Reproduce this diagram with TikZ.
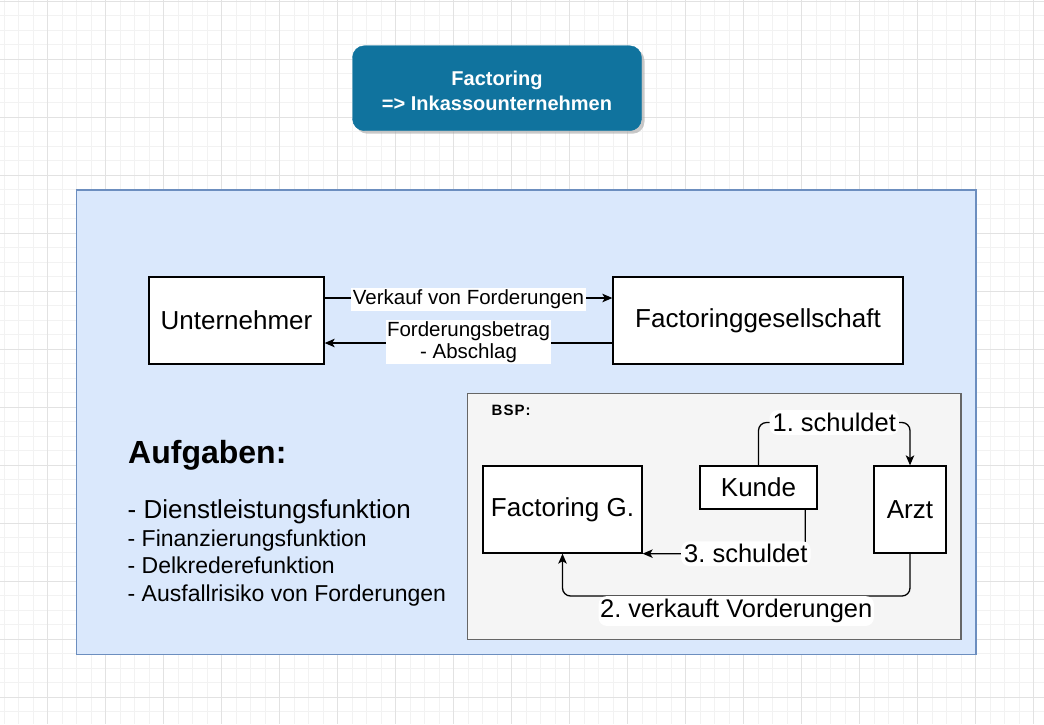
\documentclass[tikz,border=0pt]{standalone}
\usepackage{fontspec}
\setmainfont{Liberation Sans}
\usetikzlibrary{arrows.meta,shadows}
\definecolor{titleblue}{HTML}{10739E}
\definecolor{bluefill}{HTML}{DAE8FC}
\definecolor{bluestroke}{HTML}{6C8EBF}
\definecolor{grayfill}{HTML}{F5F5F5}
\definecolor{graystroke}{HTML}{666666}
\definecolor{gridminor}{HTML}{F2F2F2}
\definecolor{gridmajor}{HTML}{E2E2E2}
\frenchspacing
\begin{document}
\begin{tikzpicture}[x=1pt,y=-1pt,
  minorline/.style={draw=gridminor, line width=1pt},
  majorline/.style={draw=gridmajor, line width=1pt},
  titlebox/.style={draw=titleblue, fill=titleblue, rounded corners=12pt, text=white,
    font=\fontsize{20}{25}\selectfont\bfseries, align=center,
    minimum width=289pt, minimum height=85pt, inner sep=0pt,
    drop shadow={shadow xshift=3pt, shadow yshift=-3pt, fill=black!35, opacity=0.6}},
  container/.style={line width=1.3pt},
  box/.style={draw=black, fill=white, line width=1.3pt, inner sep=0pt,
    font=\fontsize{26}{31}\selectfont},
  edge/.style={draw=black, line width=1.3pt, -{Stealth[length=10pt,width=8.5pt,inset=2.5pt]}},
  smalllab/.style={fill=white, inner xsep=1.5pt, inner ysep=1.5pt, align=center,
    font=\fontsize{20.5}{22}\selectfont},
  biglab/.style={fill=white, inner xsep=3pt, inner ysep=3pt,
    font=\fontsize{25.5}{30}\selectfont},
  plaintext/.style={inner sep=0pt, anchor=base west}
]
\useasboundingbox (0,0) rectangle (1044,724);
\fill[white] (0,0) rectangle (1044,724);
% grid
\foreach \i in {0,...,72} \draw[minorline] ({4.2+14.5*\i},0) -- ({4.2+14.5*\i},724);
\foreach \j in {0,...,50} \draw[minorline] (0,{1.3+14.5*\j}) -- (1044,{1.3+14.5*\j});
\foreach \i in {1,...,18} \draw[majorline] ({-10.3+58*\i},0) -- ({-10.3+58*\i},724);
\foreach \j in {0,...,12} \draw[majorline] (0,{1.3+58*\j}) -- (1044,{1.3+58*\j});

% title
\node[titlebox] (title) at (497,88.2) {\rule{0pt}{19.5pt}Factoring\\=> Inkassounternehmen};

% containers
\draw[container, draw=bluestroke, fill=bluefill] (76.5,190) rectangle (976,654.5);
\draw[container, draw=graystroke, fill=grayfill,
  drop shadow={shadow xshift=1pt, shadow yshift=-1pt, fill=black!30, opacity=0.4}]
  (467.8,393.3) rectangle (961,639.3);

% top boxes
\node[box, minimum width=175pt, minimum height=87pt] (unt) at (236.5,320.5) {Unternehmer};
\node[box, minimum width=290pt, minimum height=87pt] (fac) at (758,320.5) {Factoringgesellschaft};

\draw[edge] ([yshift=22.5pt]unt.east) -- node[smalllab, yshift=-1.5pt] {Verkauf von Forderungen} ([yshift=22.5pt]fac.west);
\draw[edge] ([yshift=-22.5pt]fac.west) -- node[smalllab, yshift=1pt] {Forderungsbetrag\\- Abschlag} ([yshift=-22.5pt]unt.east);

% Aufgaben
\node[plaintext, font=\fontsize{32}{38}\selectfont\bfseries] (aufg) at (128,463.3) {Aufgaben:};
\node[plaintext, font=\fontsize{26}{31}\selectfont] (l1) at (127.5,518.3) {- Dienstleistungsfunktion};
\node[plaintext, font=\fontsize{23}{27}\selectfont] (l2) at (127.5,546.7) {- Finanzierungsfunktion};
\node[plaintext, font=\fontsize{23}{27}\selectfont] (l3) at (127.5,573.3) {- Delkrederefunktion};
\node[plaintext, font=\fontsize{23}{27}\selectfont] (l4) at (127.5,601.7) {- Ausfallrisiko von Forderungen};

% example
\node[plaintext, font=\fontsize{15}{18}\selectfont\bfseries] (bsp) at (491.5,415) {B\kern1pt S\kern1pt P\kern1pt:};
\node[box, minimum width=159pt, minimum height=87pt] (fg) at (562.5,509.5) {Factoring G.};
\node[box, minimum width=117pt, minimum height=43pt] (kunde) at (758.5,487.5) {Kunde};
\node[box, minimum width=72pt, minimum height=87pt] (arzt) at (910,509.5) {Arzt};

\draw[edge, rounded corners=8pt] (kunde.north) -- (kunde.north |- 0,422.5)
  -- node[biglab] {1. schuldet} (arzt.north |- 0,422.5) -- (arzt.north);
\coordinate (k3) at ([xshift=-12.5pt]kunde.south east);
\draw[edge, rounded corners=8pt] (k3) -- (k3 |- fg.south east)
  -- node[biglab, pos=0.365] {3. schuldet} (fg.south east);
\draw[edge, rounded corners=8pt] (arzt.south) -- (arzt.south |- 0,596)
  -- node[biglab, yshift=-15pt, inner xsep=1.5pt] {2. verkauft Vorderungen} (fg.south |- 0,596) -- (fg.south);
\end{tikzpicture}
\end{document}
